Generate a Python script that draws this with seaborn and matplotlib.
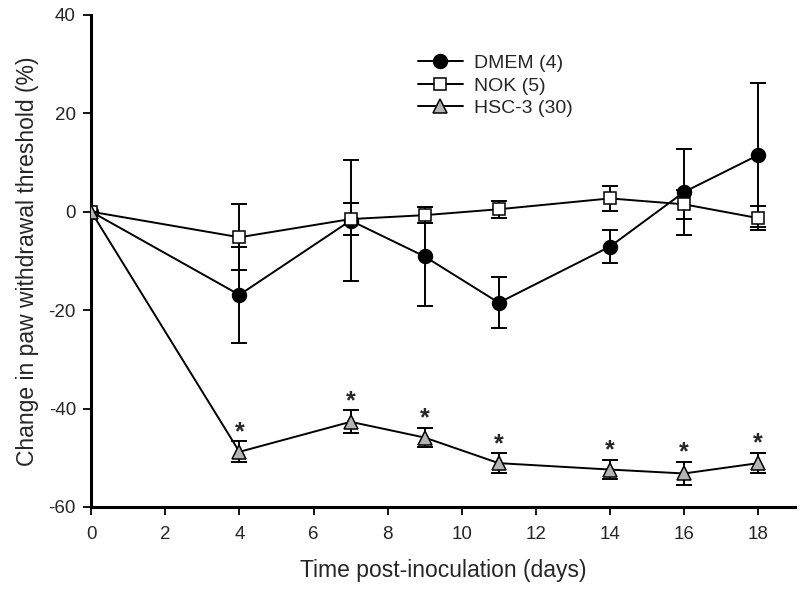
import numpy as np
import pandas as pd
import matplotlib
matplotlib.use('Agg')
import matplotlib.pyplot as plt
import seaborn as sns

sns.set_style('white')
plt.rcParams['font.family'] = ['Liberation Sans', 'DejaVu Sans']
plt.rcParams['axes.unicode_minus'] = False

# data
days = [0, 4, 7, 9, 11, 14, 16, 18]

dmem_mean = [0, -16.9, -1.8, -9.1, -18.5, -7.1, 4.0, 11.5]
dmem_err = [0, 9.8, 12.3, 10.0, 5.2, 3.4, 8.7, 14.6]

nok_mean = [0, -5.2, -1.5, -0.7, 0.5, 2.7, 1.5, -1.3]
nok_err = [0, 6.7, 3.3, 1.6, 1.7, 2.6, 3.0, 2.4]

hsc_mean = [0, -48.8, -42.7, -45.9, -51.1, -52.4, -53.2, -51.1]
hsc_err = [0, 2.1, 2.3, 2.0, 2.0, 2.0, 2.4, 2.1]

# significance marks (HSC-3 vs control)
star_days = [4, 7, 9, 11, 14, 16, 18]

series = [
    ('DMEM (4)', dmem_mean, dmem_err, 'o', 'black', 10),
    ('NOK (5)', nok_mean, nok_err, 's', 'white', 8.5),
    ('HSC-3 (30)', hsc_mean, hsc_err, '^', '#b4b4b4', 9.5),
]

fig, ax = plt.subplots(figsize=(8, 5.95), dpi=100)
fig.subplots_adjust(left=0.114, right=0.994, top=0.975, bottom=0.148)

for i, (name, mean, err, mk, fc, ms) in enumerate(series):
    df = pd.DataFrame({'day': days, 'value': mean})
    ax.errorbar(df['day'], df['value'], yerr=err, fmt='none', ecolor='black',
                elinewidth=1.4, capsize=5.5, capthick=1.4, zorder=2 + i)
    sns.lineplot(data=df, x='day', y='value', ax=ax, color='black', lw=1.4,
                 marker=mk, markersize=ms, markerfacecolor=fc,
                 markeredgecolor='black', markeredgewidth=1.1,
                 label=name, zorder=3 + i)

for d in star_days:
    k = days.index(d)
    ax.annotate('*', xy=(d, hsc_mean[k] + hsc_err[k]), xytext=(0, -2),
                textcoords='offset points', ha='center', va='bottom',
                fontsize=18, fontweight='bold')

ax.set_xlim(0, 19)
ax.set_ylim(-60, 40)
ax.set_xticks(np.arange(0, 19, 2))
ax.set_yticks(np.arange(-60, 41, 20))
ax.set_xlabel('Time post-inoculation (days)', fontsize=16.5, labelpad=11)
ax.set_ylabel('Change in paw withdrawal threshold (%)', fontsize=16.5, labelpad=7)
ax.tick_params(axis='both', labelsize=13.5, direction='out', length=6,
               width=1.3, color='black', bottom=True, left=True)
ax.tick_params(axis='x', pad=8)
ax.tick_params(axis='y', pad=5)

sns.despine(ax=ax)
for side in ['left', 'bottom']:
    ax.spines[side].set_linewidth(2.2)
    ax.spines[side].set_color('black')

ax.legend(loc='upper left', bbox_to_anchor=(0.453, 0.935), frameon=False,
          fontsize=14, handlelength=2.3, handletextpad=0.6, labelspacing=0.25,
          borderaxespad=0)

fig.savefig('out.png', dpi=100)
